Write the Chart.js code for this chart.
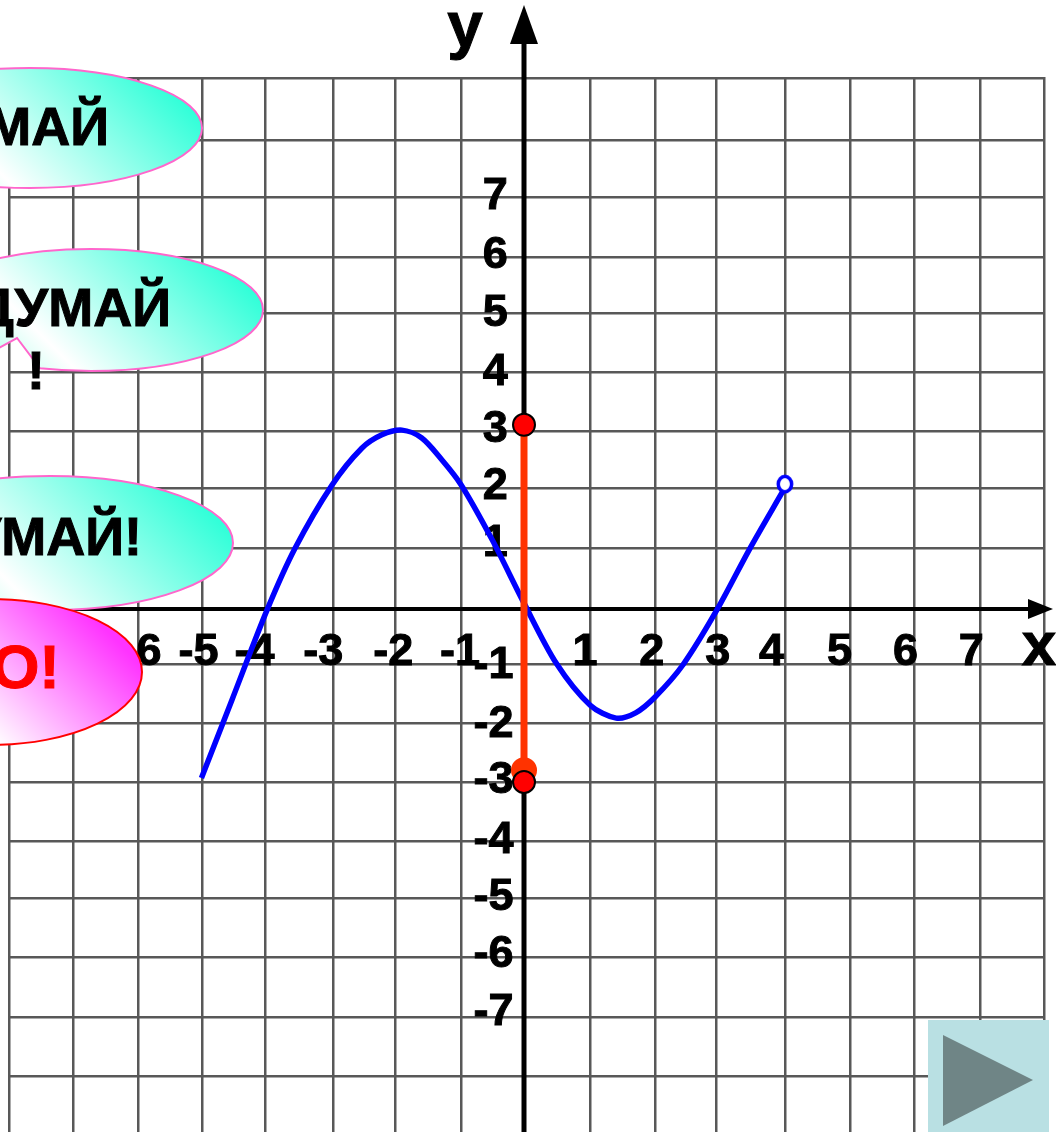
<!DOCTYPE html>
<html>
<head>
<meta charset="utf-8">
<title>График функции</title>
<script src="https://cdn.jsdelivr.net/npm/chart.js@4"></script>
<style>
    html, body { margin: 0; padding: 0; background: #fff; }
    canvas { display: block; }
</style>
</head>
<body>
<canvas id="graph" width="1056" height="1132"></canvas>
<script>
// Curve
const curveX = [-4.97, -4.5, -3.96, -3.53, -2.96, -2.5, -2.19, -1.88, -1.58, -1.27, -0.97, -0.49, 0, 0.5, 1.02, 1.42, 1.72, 2.02, 2.45, 2.97, 3.48, 4.0];
const curveY = [-2.88, -1.55, -0.02, 1.03, 2.11, 2.74, 2.97, 3.05, 2.92, 2.55, 2.12, 1.18, 0.1, -0.93, -1.64, -1.86, -1.77, -1.5, -0.95, -0.02, 1.03, 2.03];
const openEnd = [4.02, 2.13];

// Range of the function on the y axis
const rangeX = [0, 0];
const rangeY = [3.14, -2.75];
const rangeEnds = [3.14, -2.95];
const rangeStart = -2.75;

// Hand drawn grid, so the lines are not quite on the integers
const gridX = [-7.93, -6.95, -5.95, -4.95, -3.98, -2.94, -1.99, -0.97, 0, 1.02, 2.03, 2.96, 4.02, 5.02, 6.01, 7.03, 8.01];
const gridY = [9.05, 8, 7.02, 6, 5.05, 4.04, 3.03, 2.06, 1.04, 0, -0.94, -1.94, -2.95, -3.96, -4.94, -5.93, -6.96, -7.96];

// Tick labels
const xTicks = [-6, -5, -4, -3, -2, -1, 1, 2, 3, 4, 5, 6, 7];
const yTicksPos = [7, 6, 5, 4, 3, 2, 1];
const yTicksNeg = [-1, -2, -3, -4, -5, -6, -7];

// Labels sit a little off their lines (pixels)
const xTickShift = [7, -1, -10, -6, -1, 1, -4, -2, -1, -12, -9, -8, -7];
const yPosShift = [-2, -2, -2, -2, -3, -5, -7];
const yNegShift = [-2, -2, -4, -3, -5, -6, -7];

const X_UNIT = 64.9, Y_UNIT = 58.65, ZERO_X = 524, ZERO_Y = 609;
const WIDTH = 1056, HEIGHT = 1132;
const PAD = { left: 8, right: 11, top: 77, bottom: 0 };
const xMin = (PAD.left - ZERO_X) / X_UNIT;
const xMax = (WIDTH - PAD.right - ZERO_X) / X_UNIT;
const yMax = (ZERO_Y - PAD.top) / Y_UNIT;
const yMin = (ZERO_Y - HEIGHT + PAD.bottom) / Y_UNIT;

const FONT = '"Liberation Sans", Arial, sans-serif';

function zip(xs, ys) {
    return xs.map((x, i) => ({ x: x, y: ys[i] }));
}

// Secondary axis that only carries labels, placed at a value of the other axis
function labelAxis(axis, where, values, shifts, unit) {
    return {
        type: 'linear',
        axis: axis,
        position: where,
        min: axis === 'x' ? xMin : yMin,
        max: axis === 'x' ? xMax : yMax,
        grid: { display: false },
        border: { display: false },
        afterBuildTicks: scale => {
            scale.ticks = values.map((v, i) => ({ value: v + shifts[i] / unit }));
        },
        // takes no room from the plot
        afterFit: scale => {
            scale.width = 0;
            scale.height = 0;
            scale.paddingLeft = scale.paddingRight = scale.paddingTop = scale.paddingBottom = 0;
        },
        ticks: {
            autoSkip: false,
            maxRotation: 0,
            padding: 9,
            color: '#000',
            textStrokeColor: '#000',
            textStrokeWidth: 1,
            font: { family: FONT, size: 45, weight: 'bold' },
            callback: (v, i) => String(values[i])
        }
    };
}

function gridAxis(min, max, values) {
    return {
        type: 'linear',
        min: min,
        max: max,
        afterBuildTicks: scale => {
            scale.ticks = values.map(v => ({ value: v }));
        },
        border: { display: false },
        grid: { color: '#585858', lineWidth: 2.5, drawTicks: false },
        ticks: { display: false }
    };
}

function polygon(ctx, pts, color) {
    ctx.beginPath();
    pts.forEach((p, i) => i ? ctx.lineTo(p[0], p[1]) : ctx.moveTo(p[0], p[1]));
    ctx.closePath();
    ctx.fillStyle = color;
    ctx.fill();
}

function balloon(ctx, b) {
    ctx.save();
    ctx.beginPath();
    if (b.notch) {
        // goes round over the top and right, then in and out of the notch
        ctx.ellipse(b.cx, b.cy, b.rx, b.ry, 0, Math.PI, Math.PI * 2 + b.notchAt);
        b.notch.forEach(p => ctx.lineTo(p[0], p[1]));
        ctx.closePath();
    } else {
        ctx.ellipse(b.cx, b.cy, b.rx, b.ry, 0, 0, Math.PI * 2);
    }
    // diagonal fill, strongest at the upper right
    const sx = b.cx + b.rx - 12, sy = b.cy - 18, reach = b.rx * 1.3 * Math.SQRT1_2;
    const grad = ctx.createLinearGradient(sx, sy, sx - reach, sy + reach);
    grad.addColorStop(0, b.color);
    grad.addColorStop(0.8, '#ffffff');
    grad.addColorStop(1, b.fade);
    ctx.fillStyle = grad;
    ctx.fill();
    ctx.lineWidth = 2;
    ctx.strokeStyle = b.line;
    ctx.stroke();
    ctx.restore();
}

function caption(ctx, text, x, y, size, color, align) {
    ctx.font = 'bold ' + size + 'px ' + FONT;
    ctx.fillStyle = color;
    ctx.strokeStyle = color;
    ctx.lineWidth = 1;
    ctx.textAlign = align;
    ctx.textBaseline = 'alphabetic';
    ctx.strokeText(text, x, y);
    ctx.fillText(text, x, y);
}

// The open end of the curve is a slightly tall ring
function ringMarker() {
    const c = document.createElement('canvas');
    c.width = 20;
    c.height = 22;
    const g = c.getContext('2d');
    g.beginPath();
    g.ellipse(10, 11, 6.7, 7.7, 0, 0, Math.PI * 2);
    g.fillStyle = '#fff';
    g.fill();
    g.lineWidth = 3.5;
    g.strokeStyle = '#0000ff';
    g.stroke();
    return c;
}

// Axis arrows and names go under the curves
const axisDecor = {
    id: 'axisDecor',
    beforeDatasetsDraw(chart) {
        const ctx = chart.ctx;
        const px = chart.scales.x.getPixelForValue(0);
        const py = chart.scales.y.getPixelForValue(0);
        polygon(ctx, [[px, 5], [px + 14, 44], [px - 14, 44]], '#000');
        polygon(ctx, [[1053, py], [1028, py - 10], [1028, py + 10]], '#000');
        caption(ctx, 'y', 465, 47, 64, '#000', 'center');
        caption(ctx, 'x', 1039, 665, 62, '#000', 'center');
    }
};

// Speech balloons and the slide button lie over everything
const slideDecor = {
    id: 'slideDecor',
    afterDatasetsDraw(chart) {
        const ctx = chart.ctx;
        const pink = '#ff66cc', cyan = '#33ffd9', pale = '#c4fff0';
        balloon(ctx, { cx: 30, cy: 128, rx: 172, ry: 60, color: cyan, fade: pale, line: pink });
        balloon(ctx, { cx: 91, cy: 310, rx: 172, ry: 61, color: cyan, fade: pale, line: pink, notchAt: 1.872, notch: [[17, 338], [-5, 350]] });
        balloon(ctx, { cx: 50, cy: 543, rx: 183, ry: 67, color: cyan, fade: pale, line: pink });
        balloon(ctx, { cx: -10, cy: 672, rx: 152, ry: 73, color: '#ff33ff', fade: '#ffffff', line: '#ff0000' });
        caption(ctx, 'МАЙ', 109, 145, 54, '#000', 'right');
        caption(ctx, 'ДУМАЙ', 171, 326, 54, '#000', 'right');
        caption(ctx, '!', 36, 389, 54, '#000', 'center');
        caption(ctx, 'УМАЙ!', 142, 555, 54, '#000', 'right');
        caption(ctx, 'О!', 60, 688, 62, '#ff0000', 'right');

        ctx.fillStyle = '#b9e0e3';
        ctx.fillRect(928, 1020, 121, 112);
        polygon(ctx, [[943, 1035], [1033, 1080], [943, 1126]], '#6f8586');
    }
};

function createGraph() {
    const ctx = document.getElementById('graph').getContext('2d');

    new Chart(ctx, {
        type: 'scatter',
        data: {
            datasets: [
                {
                    label: 'ends',
                    data: zip([0, 0], rangeEnds),
                    backgroundColor: '#ff0000',
                    borderColor: '#000',
                    borderWidth: 2,
                    pointRadius: 11,
                    order: 0
                },
                {
                    label: 'start',
                    data: zip([0], [rangeStart]),
                    backgroundColor: '#ff3300',
                    borderWidth: 0,
                    pointRadius: 13,
                    order: 1
                },
                {
                    label: 'range',
                    data: zip(rangeX, rangeY),
                    showLine: true,
                    borderColor: '#ff3300',
                    borderWidth: 7,
                    pointRadius: 0,
                    order: 2
                },
                {
                    label: 'open end',
                    data: zip([openEnd[0]], [openEnd[1]]),
                    pointStyle: ringMarker(),
                    order: 3
                },
                {
                    label: 'f(x)',
                    data: zip(curveX, curveY),
                    showLine: true,
                    borderColor: '#0000ff',
                    borderWidth: 5.5,
                    tension: 0.3,
                    pointRadius: 0,
                    order: 4
                },
                {
                    label: 'y axis',
                    data: zip([0, 0], [yMin, 9.8]),
                    showLine: true,
                    clip: false,
                    borderColor: '#000',
                    borderWidth: 5,
                    pointRadius: 0,
                    order: 5
                },
                {
                    label: 'x axis',
                    data: zip([-7, 7.9], [0, 0]),
                    showLine: true,
                    clip: false,
                    borderColor: '#000',
                    borderWidth: 4,
                    pointRadius: 0,
                    order: 6
                }
            ]
        },
        options: {
            responsive: false,
            animation: false,
            events: [],
            // keep the plot exactly inside PAD, the markers may overhang
            layout: { padding: PAD, autoPadding: false },
            plugins: {
                legend: { display: false },
                tooltip: { enabled: false }
            },
            scales: {
                x: gridAxis(xMin, xMax, gridX),
                y: gridAxis(yMin, yMax, gridY),
                xLabels: labelAxis('x', { y: 0 }, xTicks, xTickShift, X_UNIT),
                yLabelsPos: labelAxis('y', { x: -0.25 }, yTicksPos, yPosShift.map(s => -s), Y_UNIT),
                yLabelsNeg: labelAxis('y', { x: -0.16 }, yTicksNeg, yNegShift.map(s => -s), Y_UNIT)
            }
        },
        plugins: [axisDecor, slideDecor]
    });
}

document.addEventListener('DOMContentLoaded', createGraph);
</script>
</body>
</html>
